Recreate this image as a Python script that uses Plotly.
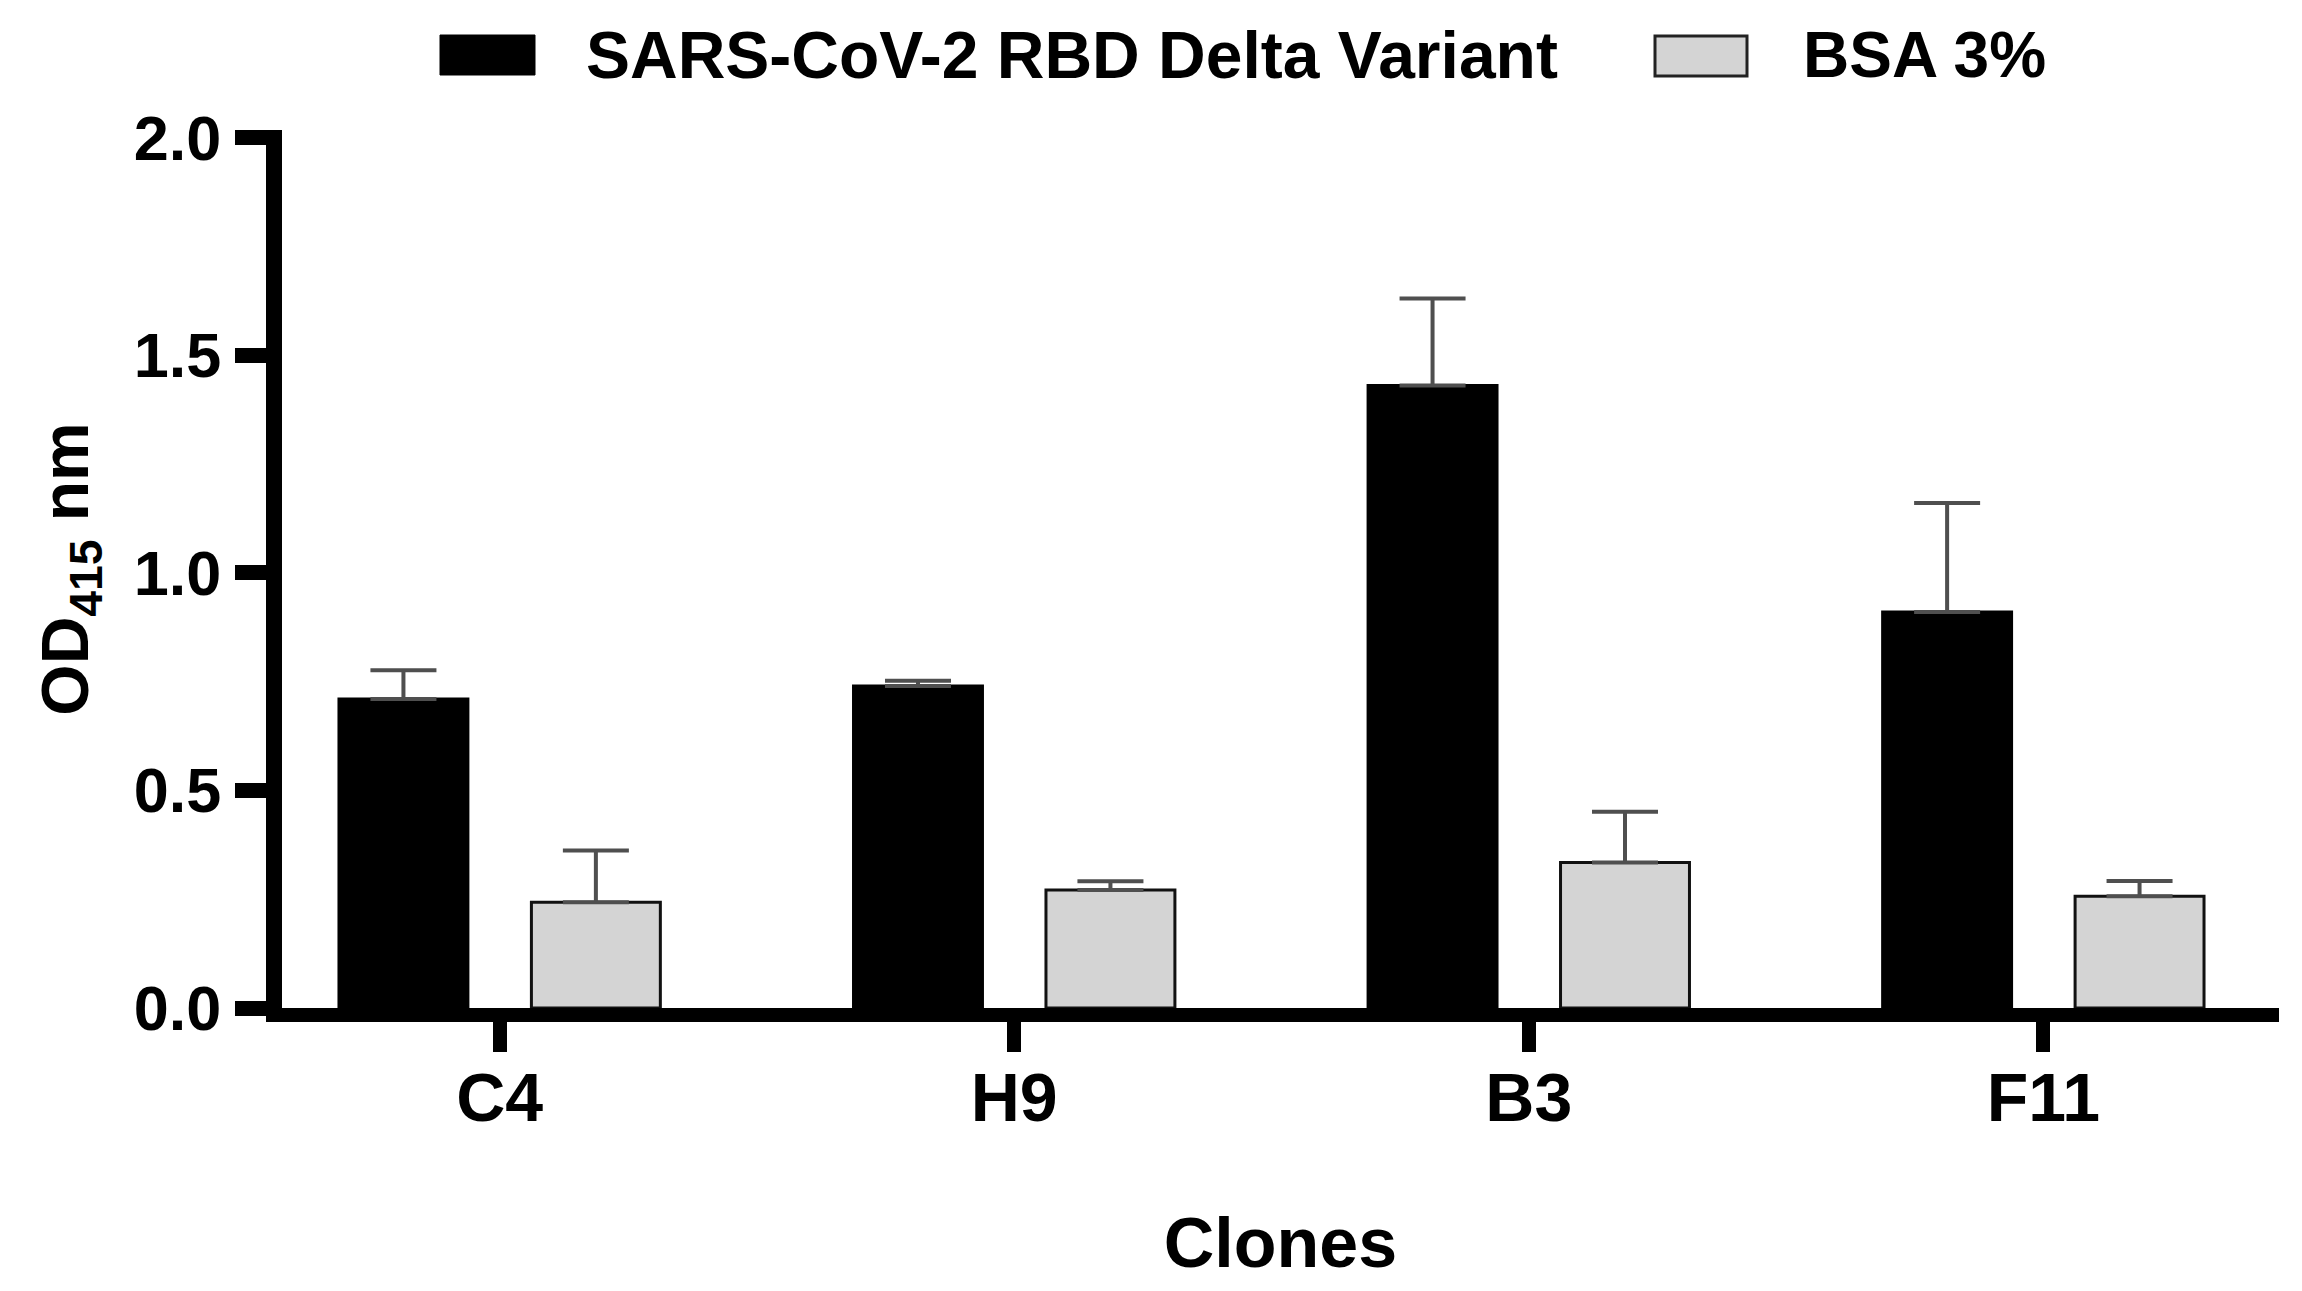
import plotly.graph_objects as go

# ---- data ----
clones = ["C4", "H9", "B3", "F11"]
rbd_delta = [0.71, 0.74, 1.43, 0.91]
rbd_delta_err = [0.066, 0.012, 0.20, 0.25]
bsa = [0.243, 0.271, 0.334, 0.257]
bsa_err = [0.119, 0.020, 0.117, 0.035]
y_ticks = [0.0, 0.5, 1.0, 1.5, 2.0]
y_tick_labels = ["0.0", "0.5", "1.0", "1.5", "2.0"]
series_names = ["SARS-CoV-2 RBD Delta Variant", "BSA 3%"]

FONT = "Liberation Sans, Arial, sans-serif"
OFF = 8  # default page body margin
W, H = 2302 - OFF, 1291 - OFF
L, R, T, B = 282 - OFF, 23, 130 - OFF, 283
ERR_COLOR = "#4f4f4f"

fig = go.Figure()
fig.add_trace(go.Bar(
    x=clones, y=rbd_delta, name=series_names[0],
    marker=dict(color="#000000", line=dict(color="#000000", width=3)),
    error_y=dict(type="data", array=rbd_delta_err, arrayminus=[0] * len(clones),
                 symmetric=False, color=ERR_COLOR, thickness=4, width=33),
    showlegend=False,
))
fig.add_trace(go.Bar(
    x=clones, y=bsa, name=series_names[1],
    marker=dict(color="#d4d4d4", line=dict(color="#111111", width=3)),
    error_y=dict(type="data", array=bsa_err, arrayminus=[0] * len(clones),
                 symmetric=False, color=ERR_COLOR, thickness=4, width=33),
    showlegend=False,
))

# custom legend (large swatches like the original); positions in screen px
pw = W - L - R
ph = H - T - B
def px_x(v):
    return (v - OFF - L) / pw
def px_y(v):
    return (H - B - (v - OFF)) / ph

fig.add_shape(type="rect", xref="paper", yref="paper",
              x0=px_x(440), x1=px_x(535), y0=px_y(75), y1=px_y(35),
              fillcolor="#000000", line=dict(color="#000000", width=1))
fig.add_shape(type="rect", xref="paper", yref="paper",
              x0=px_x(1655), x1=px_x(1747), y0=px_y(76), y1=px_y(36),
              fillcolor="#d4d4d4", line=dict(color="#222222", width=3))
fig.add_annotation(xref="paper", yref="paper", x=px_x(584), y=px_y(55),
                   text=series_names[0], showarrow=False,
                   xanchor="left", yanchor="middle",
                   font=dict(family=FONT, size=66, color="#000000", weight="bold"))
fig.add_annotation(xref="paper", yref="paper", x=px_x(1801), y=px_y(55),
                   text=series_names[1], showarrow=False,
                   xanchor="left", yanchor="middle",
                   font=dict(family=FONT, size=64, color="#000000", weight="bold"))

fig.update_layout(
    width=W, height=H,
    margin=dict(l=L, r=R, t=T, b=B, autoexpand=False),
    paper_bgcolor="white", plot_bgcolor="white",
    barmode="group", bargap=0.252, bargroupgap=0.33,
    font=dict(family=FONT, color="#000000"),
    xaxis=dict(
        type="category", categoryorder="array", categoryarray=clones,
        range=[-0.423, 3.458],
        showline=True, linewidth=14, linecolor="#000000",
        ticks="outside", ticklen=30, tickwidth=14, tickcolor="#000000",
        showgrid=False, zeroline=False,
        tickfont=dict(family=FONT, size=68, color="#000000", weight="bold"),
        ticklabelstandoff=-13,
        title=dict(text="Clones", standoff=90,
                   font=dict(family=FONT, size=70, color="#000000", weight="bold")),
        fixedrange=True,
    ),
    yaxis=dict(
        range=[0, 2.0172],
        tickvals=y_ticks, ticktext=y_tick_labels,
        showline=True, linewidth=16, linecolor="#000000",
        ticks="outside", ticklen=31, tickwidth=15, tickcolor="#000000",
        showgrid=False, zeroline=False,
        tickfont=dict(family=FONT, size=63, color="#000000", weight="bold"),
        ticklabelstandoff=1,
        title=dict(text="OD<sub>415</sub> nm", standoff=31,
                   font=dict(family=FONT, size=66, color="#000000", weight="bold")),
        fixedrange=True,
    ),
)

fig.write_html("out.html")
